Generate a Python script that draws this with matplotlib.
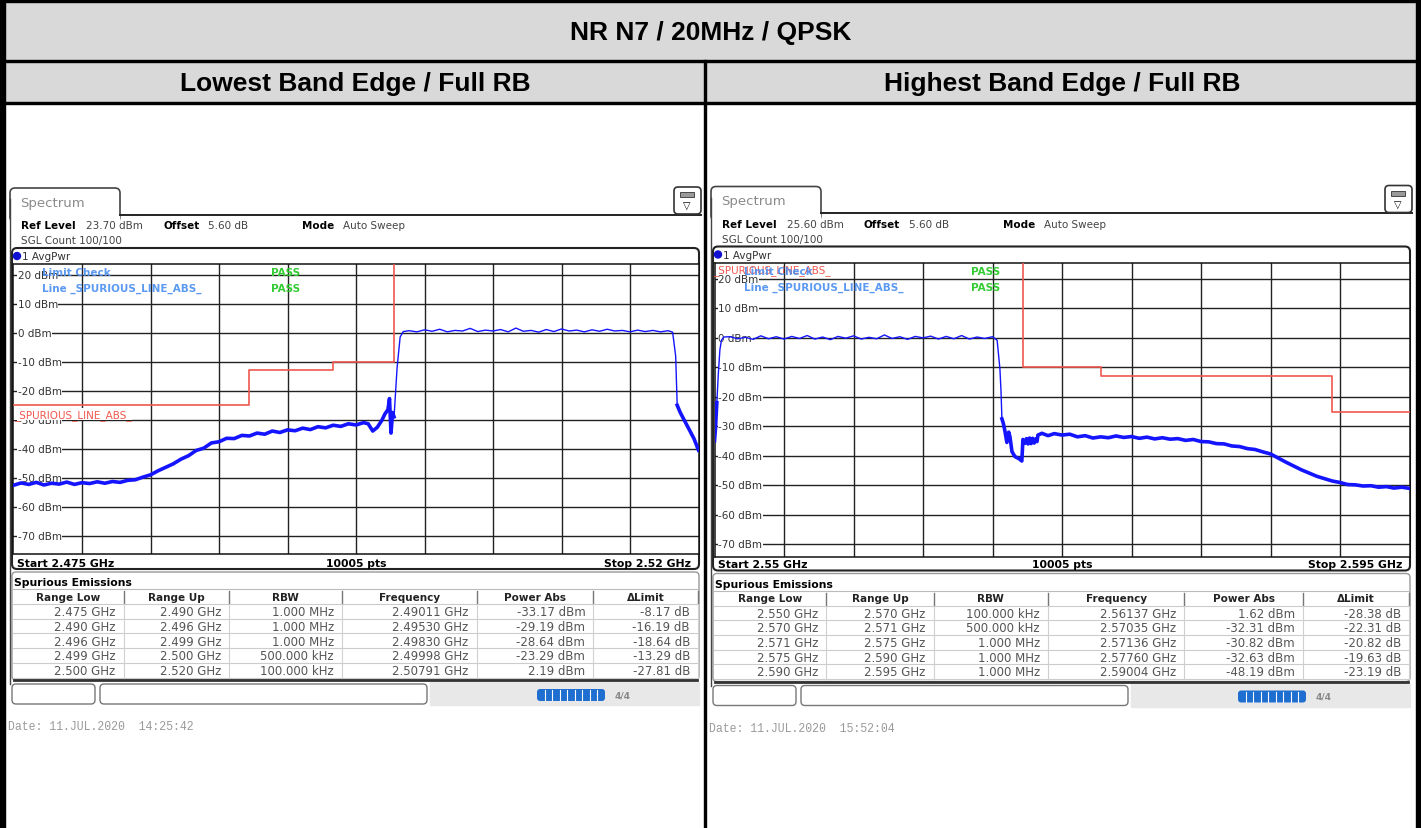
import numpy as np
import matplotlib.pyplot as plt
from matplotlib.patches import Rectangle, FancyBboxPatch, Circle

plt.rcParams['font.family'] = ['DejaVu Sans']

# ---------------- data ----------------
TITLE = "NR N7 / 20MHz / QPSK"
PANEL_TITLES = ["Lowest Band Edge / Full RB", "Highest Band Edge / Full RB"]

REF_LEVELS = [23.70, 25.60]
OFFSET_DB = 5.60
START_GHZ = [2.475, 2.55]
STOP_GHZ = [2.52, 2.595]
SWEEP_PTS = 10005
DB_TICKS = [20, 10, 0, -10, -20, -30, -40, -50, -60, -70]
DATES = ["Date: 11.JUL.2020  14:25:42", "Date: 11.JUL.2020  15:52:04"]

# trace (GHz, dBm)
low_freq = [2.4750, 2.4755, 2.4760, 2.4765, 2.4770, 2.4775, 2.4780, 2.4785, 2.4790, 2.4795,
            2.4800, 2.4805, 2.4810, 2.4815, 2.4820, 2.4825, 2.4830, 2.4835, 2.4840, 2.4845,
            2.4850, 2.4855, 2.4860, 2.4865, 2.4870, 2.4875, 2.4880, 2.4885, 2.4890, 2.4895,
            2.4900, 2.4905, 2.4910, 2.4915, 2.4920, 2.4925, 2.4930, 2.4935, 2.4940, 2.4945,
            2.4950, 2.4955, 2.4960, 2.4965, 2.4970, 2.4975, 2.4980, 2.4983, 2.4986, 2.4989,
            2.4992, 2.4994, 2.4996, 2.4997, 2.4998, 2.4999, 2.5000, 2.5002, 2.5004, 2.5006,
            2.5010, 2.5015, 2.5020, 2.5025, 2.5030, 2.5035, 2.5040, 2.5045, 2.5050, 2.5055,
            2.5060, 2.5065, 2.5070, 2.5075, 2.5080, 2.5085, 2.5090, 2.5095, 2.5100, 2.5105,
            2.5110, 2.5115, 2.5120, 2.5125, 2.5130, 2.5135, 2.5140, 2.5145, 2.5150, 2.5155,
            2.5160, 2.5165, 2.5170, 2.5175, 2.5180, 2.5183, 2.5185, 2.5186, 2.5188, 2.5191,
            2.5194, 2.5197, 2.5200]
low_level = [-52.6, -51.8, -52.3, -51.6, -52.5, -51.9, -52.2, -51.5, -52.3, -51.7,
             -52.0, -51.4, -51.9, -51.3, -51.6, -50.9, -50.7, -49.8, -49.0, -47.6,
             -46.4, -45.2, -43.6, -42.4, -40.6, -39.8, -38.0, -37.6, -36.4, -36.5,
             -35.4, -35.6, -34.6, -35.0, -33.9, -34.4, -33.5, -33.8, -32.9, -33.4,
             -32.4, -32.8, -31.9, -32.3, -31.4, -31.8, -31.0, -31.4, -33.9, -32.6,
             -30.2, -28.0, -26.5, -22.7, -34.6, -27.5, -29.0, -12.0, -1.5, 0.4,
             0.7, 0.3, 1.0, 0.5, 1.2, 0.3, 0.8, 0.6, 1.5, 0.4,
             0.9, 0.6, 1.1, 0.3, 1.6, 0.5, 0.8, 0.2, 1.1, 0.4,
             1.3, 0.6, 0.9, 0.3, 1.0, 0.5, 1.2, 0.6, 0.8, 0.3,
             0.9, 0.4, 0.8, 0.3, 0.7, 0.2, -8.0, -25.0, -27.5, -30.5,
             -33.5, -36.5, -40.5]

# trace (GHz, dBm)
high_freq = [2.55000, 2.55006, 2.55015, 2.55025, 2.55035, 2.55045, 2.5506,
             2.5510, 2.5515, 2.5520, 2.5525, 2.5530, 2.5535, 2.5540, 2.5545, 2.5550, 2.5555,
             2.5560, 2.5565, 2.5570, 2.5575, 2.5580, 2.5585, 2.5590, 2.5595, 2.5600, 2.5605,
             2.5610, 2.5615, 2.5620, 2.5625, 2.5630, 2.5635, 2.5640, 2.5645, 2.5650, 2.5655,
             2.5660, 2.5665, 2.5670, 2.5675, 2.5680, 2.5683,
             2.56848, 2.56855, 2.56861, 2.5687, 2.5688, 2.56893, 2.56905, 2.56913, 2.56926,
             2.56945, 2.56971, 2.5699, 2.56997, 2.5701, 2.5702, 2.5703, 2.5704, 2.5705,
             2.5706, 2.5707, 2.5708, 2.57088, 2.57094, 2.5712, 2.5716, 2.5720, 2.5725,
             2.5730, 2.5735, 2.5740, 2.5745, 2.5750, 2.5755, 2.5760, 2.5765, 2.5770, 2.5775,
             2.5780, 2.5785, 2.5790, 2.5795, 2.5800, 2.5805, 2.5810, 2.5815, 2.5820, 2.5825,
             2.5830, 2.5835, 2.5840, 2.5845, 2.5850, 2.5855, 2.5860, 2.5865, 2.5870, 2.5875,
             2.5880, 2.5885, 2.5890, 2.5895, 2.5900, 2.5905, 2.5910, 2.5915, 2.5920, 2.5925,
             2.5930, 2.5935, 2.5940, 2.5945, 2.5950]
high_level = [-35.0, -31.0, -22.0, -12.0, -4.0, -0.8, 0.3,
              0.4, -0.3, 0.2, -0.5, 0.7, -0.3, 0.4, -0.4, 0.5, -0.2,
              0.8, -0.4, 0.3, -0.6, 0.5, -0.1, 0.7, -0.4, 0.2, -0.3,
              1.0, -0.2, 0.4, -0.5, 0.5, 0.0, 0.6, -0.4, 0.5, -0.3,
              0.8, -0.4, 0.3, -0.2, 0.4, -0.8,
              -10.5, -18.0, -27.5, -29.0, -31.5, -35.5, -32.0, -33.6, -38.6,
              -40.3, -41.0, -41.8, -34.5, -35.8, -34.2, -36.0, -34.0, -35.9,
              -34.1, -35.7, -34.3, -35.2, -33.0, -32.4, -33.2, -32.5, -33.0,
              -32.7, -33.6, -33.2, -34.0, -33.6, -33.9, -33.3, -33.8, -33.5, -34.1,
              -33.7, -34.3, -33.9, -34.4, -34.2, -34.8, -34.5, -35.2, -35.3, -35.9,
              -36.0, -36.7, -36.9, -37.6, -37.9, -38.7, -39.4, -40.8, -42.2, -43.5,
              -44.8, -45.9, -47.0, -47.8, -48.6, -49.1, -49.8, -49.9, -50.3, -50.2,
              -50.7, -50.5, -51.0, -50.7, -51.1]

# spurious limit lines (step, GHz / dBm)
low_limit_freq = [2.475, 2.4905, 2.496, 2.500, 2.520]
low_limit_level = [-25, -13, -10, 30, 30]
high_limit_freq = [2.550, 2.570, 2.575, 2.590, 2.595]
high_limit_level = [30, -10, -13, -25, -25]

# spurious emissions tables
TABLE_HEADER = ["Range Low", "Range Up", "RBW", "Frequency", "Power Abs", "\u0394Limit"]
low_range_low = [2.475, 2.490, 2.496, 2.499, 2.500]
low_range_up = [2.490, 2.496, 2.499, 2.500, 2.520]
low_rbw_khz = [1000, 1000, 1000, 500, 100]
low_peak_ghz = [2.49011, 2.49530, 2.49830, 2.49998, 2.50791]
low_power = [-33.17, -29.19, -28.64, -23.29, 2.19]
low_delta = [-8.17, -16.19, -18.64, -13.29, -27.81]

high_range_low = [2.550, 2.570, 2.571, 2.575, 2.590]
high_range_up = [2.570, 2.571, 2.575, 2.590, 2.595]
high_rbw_khz = [100, 500, 1000, 1000, 1000]
high_peak_ghz = [2.56137, 2.57035, 2.57136, 2.57760, 2.59004]
high_power = [1.62, -32.31, -30.82, -32.63, -48.19]
high_delta = [-28.38, -22.31, -20.82, -19.63, -23.19]

# ---------------- layout ----------------
W, H = 1421, 829
GRAY = '#d9d9d9'
TRACE = '#1414ff'
LIMIT = '#f0584f'

fig = plt.figure(figsize=(W / 100, H / 100), dpi=100)
bg = fig.add_axes([0, 0, 1, 1])
bg.set_xlim(0, W)
bg.set_ylim(H, 0)
bg.axis('off')
top = fig.add_axes([0, 0, 1, 1], zorder=5)
top.set_xlim(0, W)
top.set_ylim(H, 0)
top.axis('off')
top.patch.set_alpha(0)

# outer table
bg.add_patch(Rectangle((0, 0), W, 62, color=GRAY, zorder=0))
bg.add_patch(Rectangle((0, 62), W, 42, color=GRAY, zorder=0))
bg.add_patch(Rectangle((0, 0), 5, H, color='black', zorder=6))
bg.add_patch(Rectangle((W - 5, 0), 5, H, color='black', zorder=6))
bg.add_patch(Rectangle((0, 0), W, 3, color='black', zorder=6))
bg.add_patch(Rectangle((0, 61), W, 2, color='black', zorder=6))
bg.add_patch(Rectangle((0, 103), W, 2, color='black', zorder=6))
bg.add_patch(Rectangle((704, 61), 2, H - 61, color='black', zorder=6))
bg.text(711, 33, TITLE, ha='center', va='center', fontsize=19, fontweight='bold',
        family='Liberation Sans')
bg.text(355, 84, PANEL_TITLES[0], ha='center', va='center', fontsize=19,
        fontweight='bold', family='Liberation Sans')
bg.text(1062, 84, PANEL_TITLES[1], ha='center', va='center', fontsize=19,
        fontweight='bold', family='Liberation Sans')


def fmt_rbw(v):
    if v >= 1000:
        return f"{v / 1000:.3f} MHz"
    return f"{v:.3f} kHz"


def draw_panel(i, x0, x1, gy0, gy1, dyt, dyb, freq, level, lim_f, lim_l, cols, red_top):
    ref = REF_LEVELS[i]
    f0, f1 = START_GHZ[i], STOP_GHZ[i]
    gx0, gx1 = x0 + 1.5, x1 - 0.5

    # tab + header
    bg.add_patch(FancyBboxPatch((x0 - 2, 189 + dyt), 110, 34,
                                boxstyle="round,pad=0,rounding_size=5",
                                fc='white', ec='#444', lw=1.2, zorder=1))
    bg.add_patch(Rectangle((x0 - 1, 216 + dyt), 108, 10, color='white', zorder=1.5))
    bg.plot([x0 + 108, x1 + 2], [215.5 + dyt, 215.5 + dyt], color='#222', lw=1.4, zorder=2)
    bg.plot([x0 - 2, x0 - 2], [200 + dyt, 685 + dyb], color='#444', lw=1.0, zorder=2)
    bg.text(x0 + 8, 203 + dyt, "Spectrum", fontsize=9.5, color='#8a8a8a', va='center')
    bg.add_patch(FancyBboxPatch((x1 - 25, 188 + dyt), 27, 27,
                                boxstyle="round,pad=0,rounding_size=4",
                                fc='white', ec='#333', lw=1.2, zorder=3))
    bg.add_patch(Rectangle((x1 - 19, 193 + dyt), 14, 5, fc='#9a9a9a', ec='#333', lw=0.6, zorder=4))
    bg.text(x1 - 12, 206 + dyt, "\u25bd", fontsize=7, ha='center', va='center', zorder=4)

    bg.text(x0 + 9, 226 + dyt, "Ref Level", fontsize=7.5, fontweight='bold', va='center')
    bg.text(x0 + 74, 226 + dyt, f"{ref:.2f} dBm", fontsize=7.5, color='#444', va='center')
    bg.text(x0 + 151, 226 + dyt, "Offset", fontsize=7.5, fontweight='bold', va='center')
    bg.text(x0 + 196, 226 + dyt, f"{OFFSET_DB:.2f} dB", fontsize=7.5, color='#444', va='center')
    bg.text(x0 + 290, 226 + dyt, "Mode", fontsize=7.5, fontweight='bold', va='center')
    bg.text(x0 + 331, 226 + dyt, "Auto Sweep", fontsize=7.5, color='#444', va='center')
    bg.text(x0 + 9, 241 + dyt, "SGL Count 100/100", fontsize=7.5, color='#444', va='center')

    # diagram box
    bg.add_patch(FancyBboxPatch((x0, 249 + dyt), x1 - x0, 321 + dyb - dyt,
                                boxstyle="round,pad=0,rounding_size=5",
                                fc='white', ec='#222', lw=1.5, zorder=1))
    bg.add_patch(Circle((x0 + 5, 257 + dyt), 3.5, color='#1010d0', zorder=3))
    bg.text(x0 + 10, 257 + dyt, "1 AvgPwr", fontsize=7.5, color='#333', va='center')
    ymid = 564 + dyb
    bg.text(x0 + 5, ymid, f"Start {f0:g} GHz", fontsize=7.8, fontweight='bold', va='center')
    bg.text((gx0 + gx1) / 2, ymid, f"{SWEEP_PTS} pts", fontsize=7.8, fontweight='bold',
            va='center', ha='center')
    bg.text(x1 - 8, ymid, f"Stop {f1:g} GHz", fontsize=7.8, fontweight='bold',
            va='center', ha='right')

    # spectrum axes
    ax = fig.add_axes([gx0 / W, 1 - gy1 / H, (gx1 - gx0) / W, (gy1 - gy0) / H], zorder=2)
    ax.set_xlim(f0, f1)
    ax.set_ylim(ref - 100, ref)
    ax.set_xticks(np.linspace(f0, f1, 11)[1:-1])
    ax.set_yticks(DB_TICKS)
    ax.tick_params(length=0, labelleft=False, labelbottom=False)
    ax.set_axisbelow(True)
    ax.grid(color='#222', lw=1.0)
    for s in ax.spines.values():
        s.set_color('#111')
        s.set_linewidth(1.1)
    dx = (f1 - f0) / (gx1 - gx0)
    for v in DB_TICKS:
        ax.text(f0 + 4 * dx, v, f"{v} dBm", fontsize=7.5, color='#333', va='center',
                ha='left', zorder=2, bbox=dict(fc='white', ec='none', pad=0.4))
    ax.step(lim_f, lim_l, where='post', color=LIMIT, lw=1.2, zorder=3)
    lv = np.array(level)
    ax.plot(freq, lv, color=TRACE, lw=1.0, zorder=4)
    ax.plot(freq, np.ma.masked_greater(lv, -22), color=TRACE, lw=2.6, zorder=4)

    # limit check texts
    ty = gy0 + 8
    if red_top:
        top.text(gx0 - 1, gy0 + 7, "_SPURIOUS_LINE_ABS_", fontsize=7.5, color=LIMIT, va='center')
    else:
        ly = gy0 + (ref - lim_l[0]) * (gy1 - gy0) / 100 + 9
        top.text(gx0 + 1, ly, "_SPURIOUS_LINE_ABS_", fontsize=7.5, color=LIMIT, va='center',
                 bbox=dict(fc='white', ec='none', pad=0.2))
    top.text(gx0 + 29, ty, "Limit Check", fontsize=7.5, fontweight='bold', color='#4a8ef0',
             va='center', alpha=0.9)
    top.text(gx0 + 29, ty + 16, "Line _SPURIOUS_LINE_ABS_", fontsize=7.5, fontweight='bold',
             color='#4a8ef0', va='center', alpha=0.9)
    top.text(gx0 + 257, ty, "PASS", fontsize=7.5, fontweight='bold', color='#33cc33', va='center')
    top.text(gx0 + 257, ty + 16, "PASS", fontsize=7.5, fontweight='bold', color='#33cc33',
             va='center')

    # spurious emissions table
    bg.add_patch(FancyBboxPatch((x0, 573 + dyb), x1 - x0, 108,
                                boxstyle="round,pad=0,rounding_size=4",
                                fc='white', ec='#999', lw=1.0, zorder=1))
    bg.plot([x0 + 2, x1 - 2], [681 + dyb, 681 + dyb], color='#333', lw=2.0, zorder=3)
    bg.text(x0 + 2, 583 + dyb, "Spurious Emissions", fontsize=7.8, fontweight='bold',
            va='center')
    fr = [0.0, 0.1616, 0.3159, 0.4803, 0.6769, 0.8472, 1.0]
    cx = [x0 + 1 + f * (x1 - x0 - 2) for f in fr]
    ytop = 590 + dyb
    rows_y = [ytop + 8 + 14.7 * (k + 1) for k in range(5)]
    bg.plot([cx[0], cx[-1]], [ytop, ytop], color='#bbb', lw=0.8, zorder=2)
    for k in range(6):
        yl = ytop + 15 + 14.7 * k
        bg.plot([cx[0], cx[-1]], [yl, yl], color='#ccc', lw=0.8, zorder=2)
    for c in cx[1:]:
        bg.plot([c, c], [ytop + 2, ytop + 14], color='#777', lw=1.0, zorder=2)
        bg.plot([c, c], [ytop + 15, ytop + 88], color='#d0d0d0', lw=0.8, zorder=2)
    for j, name in enumerate(TABLE_HEADER):
        bg.text((cx[j] + cx[j + 1]) / 2, ytop + 8, name, fontsize=7.5, fontweight='bold',
                ha='center', va='center', color='#222')
    for k in range(5):
        vals = [f"{cols[0][k]:.3f} GHz", f"{cols[1][k]:.3f} GHz", fmt_rbw(cols[2][k]),
                f"{cols[3][k]:.5f} GHz", f"{cols[4][k]:.2f} dBm", f"{cols[5][k]:.2f} dB"]
        for j, s in enumerate(vals):
            bg.text(cx[j + 1] - 8, rows_y[k], s, fontsize=8.5, color='#555',
                    ha='right', va='center')

    # status bar
    bg.add_patch(Rectangle((x0 + 418, 683 + dyb), x1 - x0 - 418, 23, color='#e8e8e8', zorder=1))
    bg.add_patch(FancyBboxPatch((x0, 685 + dyb), 83, 20, boxstyle="round,pad=0,rounding_size=4",
                                fc='white', ec='#777', lw=1.0, zorder=2))
    bg.add_patch(FancyBboxPatch((x0 + 88, 685 + dyb), 327, 20,
                                boxstyle="round,pad=0,rounding_size=4",
                                fc='white', ec='#777', lw=1.0, zorder=2))
    bg.add_patch(FancyBboxPatch((x0 + 525, 690 + dyb), 68, 12,
                                boxstyle="round,pad=0,rounding_size=3",
                                fc='#1f6fd1', ec='none', zorder=2))
    for k in range(1, 9):
        xx = x0 + 525 + 68 * k / 9
        bg.plot([xx, xx], [691 + dyb, 701 + dyb], color='white', lw=0.8, zorder=3)
    bg.text(x0 + 603, 696 + dyb, "4/4", fontsize=6.5, fontweight='bold', color='#888',
            va='center')
    bg.text(x0 - 4, 727 + dyb, DATES[i], fontsize=8.3, color='#9a9a9a', va='center',
            family='Liberation Mono')


draw_panel(0, 12, 699, 265, 555, 0, 0, low_freq, low_level, low_limit_freq, low_limit_level,
           [low_range_low, low_range_up, low_rbw_khz, low_peak_ghz, low_power, low_delta],
           red_top=False)
draw_panel(1, 713, 1410, 263.5, 558, -1.5, 1.5, high_freq, high_level, high_limit_freq,
           high_limit_level,
           [high_range_low, high_range_up, high_rbw_khz, high_peak_ghz, high_power, high_delta],
           red_top=True)

fig.savefig("out.png", dpi=100)
